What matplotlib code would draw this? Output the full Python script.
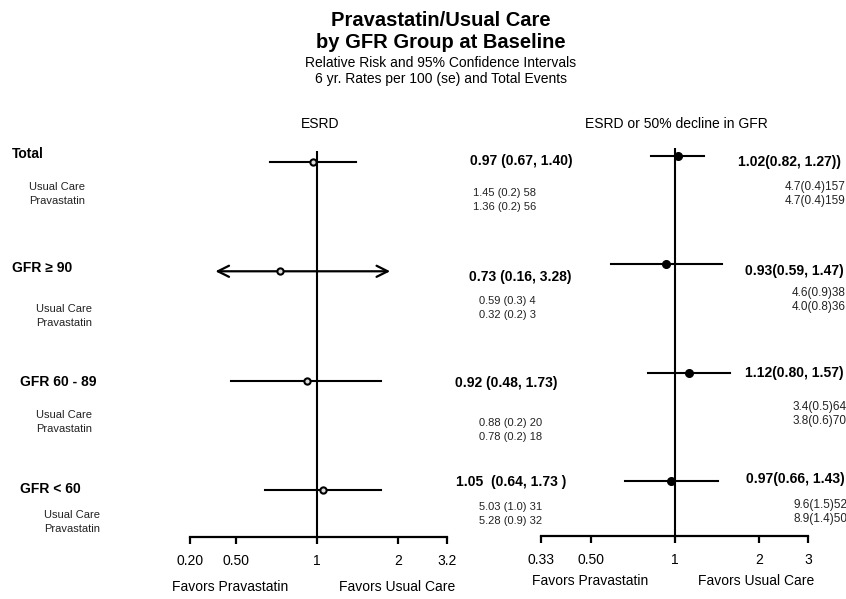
import matplotlib
matplotlib.use("Agg")
import matplotlib.pyplot as plt

plt.rcParams['font.family'] = ['Liberation Sans', 'DejaVu Sans']

W, H = 846, 599

# data
groups = ["Total", "GFR \u2265 90", "GFR 60 - 89", "GFR < 60"]
arms = ["Usual Care", "Pravastatin"]

esrd_rr = [0.97, 0.73, 0.92, 1.05]
esrd_lo = [0.67, 0.16, 0.48, 0.64]
esrd_hi = [1.40, 3.28, 1.73, 1.73]
esrd_txt = ["0.97 (0.67, 1.40)", "0.73 (0.16, 3.28)", "0.92 (0.48, 1.73)", "1.05  (0.64, 1.73 )"]
esrd_rates = [["1.45 (0.2) 58", "1.36 (0.2) 56"],
              ["0.59 (0.3) 4", "0.32 (0.2) 3"],
              ["0.88 (0.2) 20", "0.78 (0.2) 18"],
              ["5.03 (1.0) 31", "5.28 (0.9) 32"]]

dec_rr = [1.02, 0.93, 1.12, 0.97]
dec_lo = [0.82, 0.59, 0.80, 0.66]
dec_hi = [1.27, 1.47, 1.57, 1.43]
dec_txt = ["1.02(0.82, 1.27))", "0.93(0.59, 1.47)", "1.12(0.80, 1.57)", "0.97(0.66, 1.43)"]
dec_rates = [["4.7(0.4)157", "4.7(0.4)159"],
             ["4.6(0.9)38", "4.0(0.8)36"],
             ["3.4(0.5)64", "3.8(0.6)70"],
             ["9.6(1.5)52", "8.9(1.4)50"]]

left_ticks = [0.338, 0.5, 1, 2, 3.04]
left_ticklabels = ["0.20", "0.50", "1", "2", "3.2"]
right_ticks = [0.33, 0.5, 1, 2, 3]
right_ticklabels = ["0.33", "0.50", "1", "2", "3"]

# arrows drawn when the CI runs off the scale
arrow_lo, arrow_hi = 0.42, 1.87


def px(x, y):
    return x / W, 1 - y / H


def add_panel(x0, x1, y0, y1):
    ax = fig.add_axes([x0 / W, 1 - y1 / H, (x1 - x0) / W, (y1 - y0) / H])
    ax.set_xscale('log')
    for s in ['top', 'right', 'left']:
        ax.spines[s].set_visible(False)
    ax.spines['bottom'].set_linewidth(1.6)
    ax.set_yticks([])
    ax.minorticks_off()
    ax.tick_params(axis='x', which='both', length=5, width=1.6, pad=7, labelsize=10)
    ax.axvline(1, color='black', lw=1.5)
    return ax


fig = plt.figure(figsize=(W / 100, H / 100), dpi=100)

fig.text(*px(441, 20), "Pravastatin/Usual Care", ha='center', va='center', fontsize=14.5, fontweight='bold')
fig.text(*px(441, 43), "by GFR Group at Baseline", ha='center', va='center', fontsize=14.5, fontweight='bold')
fig.text(*px(441, 63), "Relative Risk and 95% Confidence Intervals", ha='center', va='center', fontsize=10)
fig.text(*px(441, 79), "6 yr. Rates per 100 (se) and Total Events", ha='center', va='center', fontsize=10)
fig.text(*px(320, 124), "ESRD", ha='center', va='center', fontsize=10)
fig.text(*px(676, 124), "ESRD or 50% decline in GFR", ha='center', va='center', fontsize=10)

# left panel (ESRD)
axl = add_panel(190, 447, 151, 537)
axl.set_xlim(left_ticks[0], left_ticks[-1])
axl.set_ylim(3.43, -0.1)
axl.set_xticks(left_ticks)
axl.set_xticklabels(left_ticklabels)
for i in range(len(groups)):
    if esrd_lo[i] < left_ticks[0] or esrd_hi[i] > left_ticks[-1]:
        for end in (arrow_lo, arrow_hi):
            axl.annotate("", xy=(end, i), xytext=(esrd_rr[i], i),
                         arrowprops=dict(arrowstyle='->,head_length=0.8,head_width=0.4', lw=1.6,
                                         color='black', shrinkA=0, shrinkB=0))
    else:
        axl.plot([esrd_lo[i], esrd_hi[i]], [i, i], color='black', lw=1.5)
    axl.plot(esrd_rr[i], i, 'o', ms=4.5, mfc='#dddddd', mec='black', mew=1.5, zorder=3)

# right panel (ESRD or 50% decline)
axr = add_panel(541, 808, 148, 536)
axr.set_xlim(right_ticks[0], right_ticks[-1])
axr.set_ylim(3.51, -0.074)
axr.set_xticks(right_ticks)
axr.set_xticklabels(right_ticklabels)
for i in range(len(groups)):
    axr.plot([dec_lo[i], dec_hi[i]], [i, i], color='black', lw=1.5)
    axr.plot(dec_rr[i], i, 'o', ms=5.5, color='black', zorder=3)

# row text layout (pixels)
group_xy = [(12, 154), (12, 268), (20, 382), (20, 489)]
arm_xy = [(29, 187), (36, 309), (36, 415), (44, 515)]
esrd_txt_xy = [(470, 161), (469, 277), (455, 383), (456, 482)]
esrd_rate_xy = [(473, 193), (479, 301), (479, 423), (479, 507)]
dec_txt_xy = [(738, 162), (745, 271), (745, 373), (746, 479)]
dec_rate_xy = [(785, 187), (792, 293), (793, 407), (793, 505)]
line_gap = 14

for i, g in enumerate(groups):
    fig.text(*px(*group_xy[i]), g, ha='left', va='center', fontsize=10, fontweight='bold')
    for k, a in enumerate(arms):
        x, y = arm_xy[i]
        fig.text(*px(x, y + k * line_gap), a, ha='left', va='center', fontsize=8, color='#222222')
        x, y = esrd_rate_xy[i]
        fig.text(*px(x, y + k * line_gap), esrd_rates[i][k], ha='left', va='center', fontsize=8, color='#222222')
        x, y = dec_rate_xy[i]
        fig.text(*px(x, y + k * line_gap), dec_rates[i][k], ha='left', va='center', fontsize=8.5, color='#222222')
    fig.text(*px(*esrd_txt_xy[i]), esrd_txt[i], ha='left', va='center', fontsize=10, fontweight='bold')
    fig.text(*px(*dec_txt_xy[i]), dec_txt[i], ha='left', va='center', fontsize=10, fontweight='bold')

fig.text(*px(230, 587), "Favors Pravastatin", ha='center', va='center', fontsize=10)
fig.text(*px(397, 587), "Favors Usual Care", ha='center', va='center', fontsize=10)
fig.text(*px(590, 581), "Favors Pravastatin", ha='center', va='center', fontsize=10)
fig.text(*px(756, 581), "Favors Usual Care", ha='center', va='center', fontsize=10)

fig.savefig("out.png", dpi=100)
